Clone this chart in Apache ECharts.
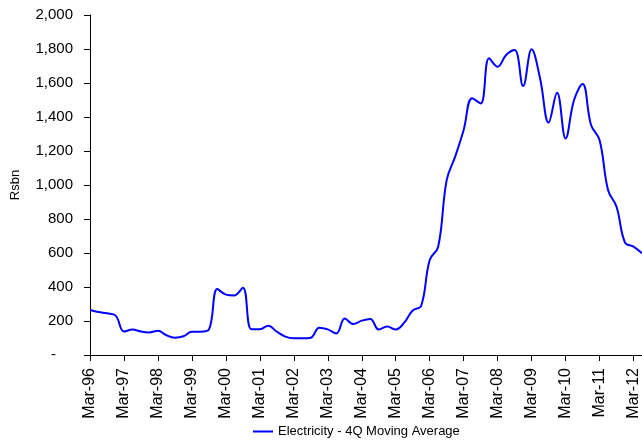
<!DOCTYPE html>
<html>
<head>
<meta charset="utf-8">
<script src="https://cdn.jsdelivr.net/npm/echarts@6/dist/echarts.min.js"></script>
<style>
html,body{margin:0;padding:0;background:#fff;}
#chart{width:642px;height:442px;}
</style>
</head>
<body>
<div id="chart"></div>
<script>
var quarters = ['Mar','Jun','Sep','Dec'];
var years = ['96','97','98','99','00','01','02','03','04','05','06','07','08','09','10','11','12'];
var categories = [];
years.forEach(function (y) { quarters.forEach(function (q) { categories.push(q + '-' + y); }); });
categories = categories.slice(0, 66); // Mar-96 .. Jun-12

var seriesName = 'Electricity - 4Q Moving Average';
var electricity = [
  265, 253, 245, 233,
  138, 150, 138, 133,
  143, 116, 102, 110,
  137, 137, 150, 388,
  355, 350, 396, 152,
  152, 172, 137, 108,
  98, 98, 102, 161,
  151, 127, 214, 182,
  202, 212, 150, 167,
  150, 190, 262, 290,
  559, 637, 1029, 1167,
  1324, 1510, 1480, 1745,
  1696, 1765, 1794, 1582,
  1798, 1627, 1367, 1543,
  1274, 1500, 1594, 1353,
  1265, 971, 872, 661,
  637, 598
];
var yTicks = [0, 200, 400, 600, 800, 1000, 1200, 1400, 1600, 1800, 2000];
var yAxisName = 'Rsbn';

var font = "'Liberation Sans', Arial, sans-serif";
var chart = echarts.init(document.getElementById('chart'), null, {renderer: 'canvas'});
chart.setOption({
  animation: false,
  backgroundColor: '#fff',
  textStyle: {fontFamily: font, color: '#000'},
  grid: {left: 90, right: 0, top: 15, bottom: 87, containLabel: false},
  legend: {
    data: [seriesName],
    left: 253, top: 425,
    icon: 'rect', itemWidth: 20, itemHeight: 2, itemGap: 5,
    padding: 0,
    textStyle: {fontFamily: font, fontSize: 13, color: '#000'}
  },
  xAxis: {
    type: 'category',
    data: categories,
    boundaryGap: false,
    axisLine: {show: true, lineStyle: {color: '#000', width: 1}},
    axisTick: {show: true, interval: 3, length: 6, lineStyle: {color: '#000'}},
    axisLabel: {
      interval: 3, rotate: 90, margin: 13,
      fontFamily: font, fontSize: 16, color: '#000'
    },
    splitLine: {show: false}
  },
  yAxis: {
    type: 'value',
    min: yTicks[0], max: yTicks[yTicks.length - 1], interval: 200,
    name: yAxisName,
    nameLocation: 'middle', nameRotate: 90, nameGap: 68,
    nameTextStyle: {fontFamily: font, fontSize: 13, color: '#000'},
    axisLine: {show: true, lineStyle: {color: '#000', width: 1}},
    axisTick: {show: true, length: 6, inside: false, lineStyle: {color: '#000'}},
    axisLabel: {
      margin: 17, fontFamily: font, fontSize: 15, color: '#000',
      formatter: function (v) {
        if (v === 0) return '{dash|-}';
        return v.toLocaleString('en-US');
      },
      rich: {dash: {fontFamily: font, fontSize: 15, color: '#000', padding: [0, 17, 0, 0]}}
    },
    splitLine: {show: false}
  },
  series: [{
    name: seriesName,
    type: 'line',
    data: electricity,
    symbol: 'none',
    smooth: 0.4,
    lineStyle: {color: '#0000FF', width: 2},
    itemStyle: {color: '#0000FF'}
  }]
});
</script>
</body>
</html>
